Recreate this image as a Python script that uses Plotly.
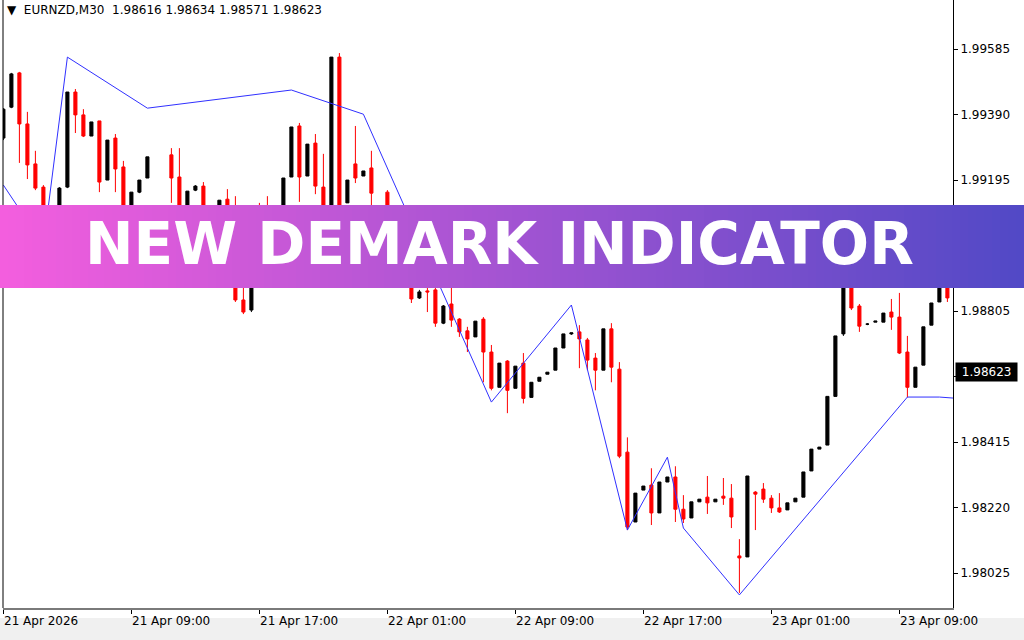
import plotly.graph_objects as go

# ---------------- data (EURNZD M30) ----------------
bar_index = list(range(119))

opens = [1.99320, 1.99412, 1.99514, 1.99362, 1.99243, 1.99174, 1.99031, 1.99091, 1.99174, 1.99457,
         1.99389, 1.99326, 1.99371, 1.99195, 1.99320, 1.99234, 1.99076, 1.99159, 1.99201, 1.99100,
         1.99031, 1.99270, 1.99204, 1.99082, 1.99165, 1.99177, 1.99070, 1.99070, 1.99138, 1.99040,
         1.98838, 1.98808, 1.99070, 1.98993, 1.98957, 1.99046, 1.99204, 1.99356, 1.99207, 1.99305,
         1.99174, 1.99061, 1.99561, 1.99127, 1.99243, 1.99207, 1.99231, 1.99091, 1.99159, 1.99017,
         1.98957, 1.98912, 1.98844, 1.98865, 1.98868, 1.98769, 1.98826, 1.98781, 1.98746, 1.98728,
         1.98781, 1.98683, 1.98578, 1.98656, 1.98575, 1.98650, 1.98548, 1.98596, 1.98617, 1.98629,
         1.98695, 1.98737, 1.98743, 1.98719, 1.98665, 1.98629, 1.98752, 1.98632, 1.98385, 1.98177,
         1.98272, 1.98287, 1.98204, 1.98296, 1.98311, 1.98215, 1.98189, 1.98237, 1.98251, 1.98237,
         1.98254, 1.98248, 1.98076, 1.98073, 1.98266, 1.98275, 1.98248, 1.98219, 1.98213, 1.98237,
         1.98251, 1.98329, 1.98394, 1.98406, 1.98551, 1.98737, 1.98942, 1.98820, 1.98766, 1.98772,
         1.98772, 1.98802, 1.98787, 1.98683, 1.98578, 1.98644, 1.98763, 1.98832, 1.98889]
highs = [1.99409, 1.99514, 1.99517, 1.99398, 1.99282, 1.99180, 1.99115, 1.99174, 1.99457, 1.99466,
         1.99406, 1.99368, 1.99371, 1.99314, 1.99332, 1.99252, 1.99159, 1.99195, 1.99264, 1.99112,
         1.99118, 1.99290, 1.99290, 1.99162, 1.99180, 1.99189, 1.99115, 1.99135, 1.99168, 1.99147,
         1.98874, 1.99082, 1.99127, 1.99147, 1.99061, 1.99201, 1.99353, 1.99365, 1.99302, 1.99332,
         1.99273, 1.99561, 1.99573, 1.99195, 1.99356, 1.99222, 1.99282, 1.99118, 1.99165, 1.99031,
         1.98972, 1.98927, 1.98868, 1.98891, 1.98886, 1.98823, 1.98883, 1.98784, 1.98758, 1.98775,
         1.98787, 1.98704, 1.98650, 1.98659, 1.98641, 1.98680, 1.98593, 1.98608, 1.98623, 1.98695,
         1.98737, 1.98740, 1.98763, 1.98725, 1.98680, 1.98752, 1.98769, 1.98653, 1.98429, 1.98263,
         1.98284, 1.98337, 1.98296, 1.98311, 1.98343, 1.98257, 1.98237, 1.98245, 1.98314, 1.98245,
         1.98308, 1.98290, 1.98126, 1.98314, 1.98269, 1.98293, 1.98257, 1.98263, 1.98234, 1.98248,
         1.98326, 1.98394, 1.98400, 1.98551, 1.98731, 1.98963, 1.98972, 1.98826, 1.98769, 1.98775,
         1.98799, 1.98841, 1.98859, 1.98731, 1.98638, 1.98758, 1.98829, 1.98912, 1.98903]
lows = [1.99314, 1.99409, 1.99246, 1.99198, 1.99165, 1.99002, 1.99022, 1.99082, 1.99171, 1.99335,
        1.99323, 1.99326, 1.99159, 1.99195, 1.99159, 1.99058, 1.99064, 1.99156, 1.99201, 1.99017,
        1.99022, 1.99127, 1.99070, 1.99076, 1.99162, 1.99070, 1.99058, 1.99064, 1.99028, 1.98832,
        1.98796, 1.98802, 1.98972, 1.98942, 1.98942, 1.99040, 1.99204, 1.99130, 1.99207, 1.99153,
        1.99046, 1.99046, 1.99070, 1.99127, 1.99186, 1.99207, 1.99100, 1.99070, 1.99002, 1.98942,
        1.98891, 1.98829, 1.98841, 1.98802, 1.98758, 1.98766, 1.98758, 1.98728, 1.98683, 1.98728,
        1.98593, 1.98569, 1.98578, 1.98501, 1.98575, 1.98530, 1.98548, 1.98596, 1.98617, 1.98629,
        1.98695, 1.98734, 1.98635, 1.98629, 1.98569, 1.98629, 1.98593, 1.98367, 1.98153, 1.98177,
        1.98272, 1.98168, 1.98204, 1.98296, 1.98177, 1.98174, 1.98189, 1.98237, 1.98201, 1.98237,
        1.98228, 1.98159, 1.97966, 1.98073, 1.98153, 1.98234, 1.98204, 1.98204, 1.98213, 1.98237,
        1.98251, 1.98329, 1.98394, 1.98406, 1.98551, 1.98731, 1.98808, 1.98743, 1.98763, 1.98772,
        1.98772, 1.98749, 1.98677, 1.98548, 1.98578, 1.98644, 1.98763, 1.98832, 1.98832]
closes = [1.99406, 1.99511, 1.99362, 1.99240, 1.99171, 1.99031, 1.99106, 1.99171, 1.99457, 1.99389,
          1.99326, 1.99368, 1.99189, 1.99314, 1.99228, 1.99070, 1.99159, 1.99195, 1.99264, 1.99031,
          1.99106, 1.99201, 1.99082, 1.99162, 1.99177, 1.99082, 1.99106, 1.99135, 1.99040, 1.98838,
          1.98802, 1.99076, 1.98987, 1.98957, 1.99046, 1.99201, 1.99353, 1.99204, 1.99302, 1.99177,
          1.99061, 1.99561, 1.99100, 1.99195, 1.99201, 1.99222, 1.99156, 1.99112, 1.99017, 1.98957,
          1.98912, 1.98841, 1.98862, 1.98862, 1.98769, 1.98820, 1.98778, 1.98743, 1.98722, 1.98775,
          1.98683, 1.98575, 1.98650, 1.98569, 1.98641, 1.98545, 1.98593, 1.98608, 1.98623, 1.98695,
          1.98737, 1.98740, 1.98722, 1.98659, 1.98629, 1.98752, 1.98638, 1.98373, 1.98162, 1.98263,
          1.98284, 1.98204, 1.98296, 1.98311, 1.98215, 1.98186, 1.98237, 1.98245, 1.98234, 1.98245,
          1.98248, 1.98192, 1.98070, 1.98314, 1.98260, 1.98245, 1.98219, 1.98207, 1.98234, 1.98248,
          1.98326, 1.98394, 1.98400, 1.98551, 1.98731, 1.98951, 1.98814, 1.98760, 1.98766, 1.98775,
          1.98799, 1.98787, 1.98680, 1.98578, 1.98638, 1.98758, 1.98829, 1.98897, 1.98844]

# New DeMark indicator line (vertices: bar index, price)
demark_index = [0, 5, 8, 18, 36, 45, 61, 71, 78, 83, 85, 92, 113, 117, 118.7]
demark_price = [1.99180, 1.99001, 1.99561, 1.99409, 1.99463, 1.99391, 1.98534, 1.98823,
                1.98153, 1.98370, 1.98159, 1.97960, 1.98549, 1.98549, 1.98546]

y_ticks = [1.98025, 1.98220, 1.98415, 1.98610, 1.98805, 1.99000, 1.99195, 1.99390, 1.99585]
y_tick_text = ["1.98025", "1.98220", "1.98415", "", "1.98805", "1.99000", "1.99195", "1.99390", "1.99585"]
x_tick_index = [0, 16, 32, 48, 64, 80, 96, 112]
x_tick_text = ["21 Apr 2026", "21 Apr 09:00", "21 Apr 17:00", "22 Apr 01:00",
               "22 Apr 09:00", "22 Apr 17:00", "23 Apr 01:00", "23 Apr 09:00"]
header_text = "EURNZD,M30  1.98616 1.98634 1.98571 1.98623"
last_price = 1.98623
banner_text = "NEW DEMARK INDICATOR"

# ---------------- figure ----------------
W, H = 1024, 640
ML, MR, MT, MB = 3, 71, 0, 32
FONT = "DejaVu Sans"

fig = go.Figure()
fig.add_trace(go.Candlestick(
    x=bar_index, open=opens, high=highs, low=lows, close=closes,
    increasing=dict(line=dict(color="black", width=1), fillcolor="black"),
    decreasing=dict(line=dict(color="#ff0000", width=1), fillcolor="#ff0000"),
    whiskerwidth=0, hoverinfo="skip", showlegend=False,
))
fig.add_trace(go.Scatter(
    x=demark_index, y=demark_price, mode="lines",
    line=dict(color="#3030ff", width=1), hoverinfo="skip", showlegend=False,
))

fig.update_layout(
    width=W, height=H,
    margin=dict(l=ML, r=MR, t=MT, b=MB, pad=0),
    paper_bgcolor="white", plot_bgcolor="white",
    boxgap=0.45,
    font=dict(family=FONT, size=12, color="black"),
    xaxis=dict(
        range=[-0.05, 118.7], rangeslider=dict(visible=False),
        showgrid=False, zeroline=False,
        tickmode="array", tickvals=x_tick_index, ticktext=[""] * len(x_tick_index),
        ticks="outside", ticklen=4, tickcolor="black", tickwidth=1,
        showline=True, linecolor="#7a7a7a", linewidth=2,
    ),
    yaxis=dict(
        range=[1.97921, 1.99731], side="right",
        showgrid=False, zeroline=False,
        tickmode="array", tickvals=y_ticks, ticktext=y_tick_text,
        ticks="outside", ticklen=4, tickcolor="black", tickwidth=1,
        showline=True, linecolor="black", linewidth=1, mirror=False,
        tickfont=dict(family=FONT, size=12, color="black"),
    ),
    showlegend=False,
)

# left border line of chart window
fig.add_shape(type="line", xref="paper", yref="paper", x0=0, x1=0, y0=0, y1=1,
              line=dict(color="black", width=1))
# light grey strip at bottom of window
fig.add_shape(type="rect", xref="paper", yref="paper",
              x0=-ML / (W - ML - MR), x1=(W - ML) / (W - ML - MR),
              y0=-(MB) / (H - MT - MB), y1=-(MB - 22) / (H - MT - MB),
              line=dict(width=0), fillcolor="#f0f0f0", layer="below")

# x tick labels, left-aligned at the tick as in MetaTrader
for xi, txt in zip(x_tick_index, x_tick_text):
    fig.add_annotation(x=xi, xref="x", y=-13 / (H - MT - MB), yref="paper",
                       text=txt, showarrow=False, xanchor="left", yanchor="middle",
                       xshift=-1, font=dict(family=FONT, size=12, color="black"))

# header
fig.add_annotation(x=0.002, xref="paper", y=1 - 10 / (H - MT - MB), yref="paper",
                   text="▼  " + header_text, showarrow=False, xanchor="left", yanchor="middle",
                   font=dict(family=FONT, size=12, color="black"))

# current price label
fig.add_annotation(x=1.0, xref="paper", y=last_price, yref="y", text=" " + format(last_price, ".5f") + " ",
                   showarrow=False, xanchor="left", yanchor="middle", xshift=2,
                   bgcolor="black", font=dict(family=FONT, size=12, color="white"),
                   borderpad=2)

# gradient banner
pw = W - ML - MR
ph = H - MT - MB
n = 128
c0 = (244, 94, 222)
c1 = (81, 73, 198)
by0, by1 = (H - MB - 288) / ph, (H - MB - 205) / ph
for k in range(n):
    t = (k + 0.5) / n
    col = "rgb(%d,%d,%d)" % tuple(round(a + (b - a) * t) for a, b in zip(c0, c1))
    px0 = k * W / n
    px1 = (k + 1) * W / n + 0.6
    fig.add_shape(type="rect", xref="paper", yref="paper",
                  x0=(px0 - ML) / pw, x1=(px1 - ML) / pw, y0=by0, y1=by1,
                  line=dict(width=0), fillcolor=col, layer="above")
fig.add_annotation(x=(499 - ML) / pw, xref="paper", y=(H - MB - 244) / ph, yref="paper",
                   text=banner_text, showarrow=False, xanchor="center", yanchor="middle",
                   font=dict(family="DejaVu Sans", size=58, color="white", weight="bold"))

fig.write_html("out.html", config={"displayModeBar": False},
               post_script="document.body.style.margin='0';document.body.style.overflow='hidden';")
